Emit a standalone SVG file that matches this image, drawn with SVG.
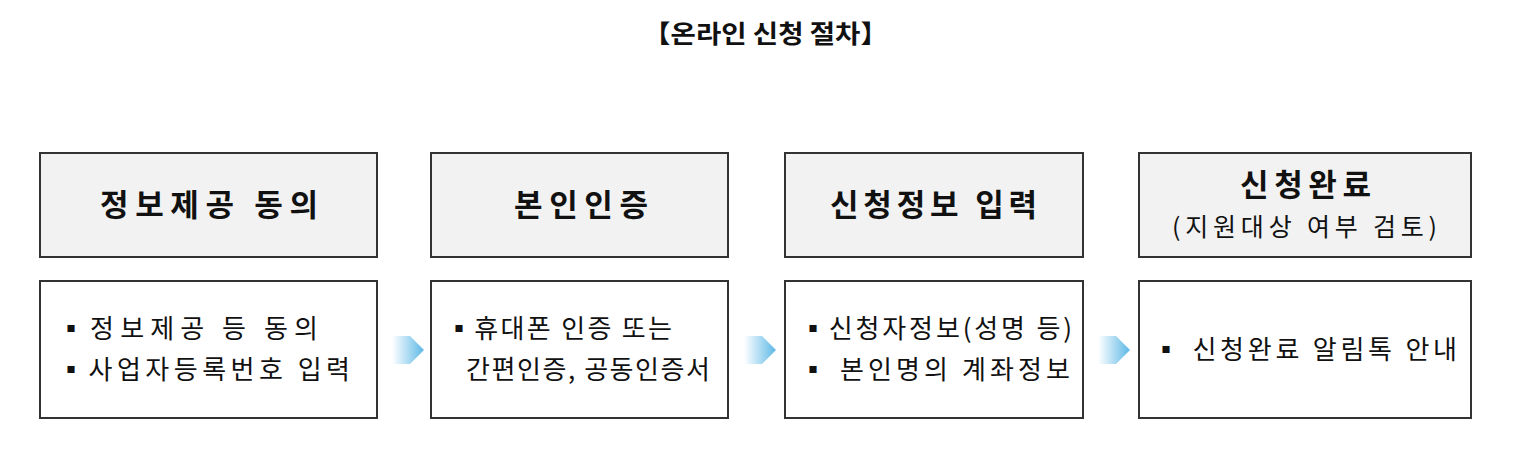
<svg xmlns="http://www.w3.org/2000/svg" width="1538" height="458" viewBox="0 0 1538 458">
<style>
text{font-family:"Noto Sans CJK KR","Noto Sans",sans-serif;fill:#111}
.hd{fill:#f2f2f2;stroke:#333;stroke-width:2}
.bd{fill:#fff;stroke:#333;stroke-width:2}
.h{font-size:31px;font-weight:bold}
.s{font-size:25px}
.b{font-size:26px}
.t{font-size:25px;font-weight:bold}
</style>
<defs>
<linearGradient id="g" x1="0" x2="1" y1="0" y2="0"><stop offset="0" stop-color="#5cb8e6" stop-opacity="0"/><stop offset="1" stop-color="#5cb8e6"/></linearGradient>
<polygon id="arr" points="0,0 18,0 32,14 18,28 0,28" fill="url(#g)"/>
</defs>
<text class="t" x="643" y="43" textLength="245" lengthAdjust="spacingAndGlyphs">【온라인 신청 절차】</text>
<g id="n1"><rect class="hd" x="40" y="153" width="337" height="104"/><text class="h" x="100" y="216" textLength="218">정보제공  동의</text></g>
<g id="n1b"><rect class="bd" x="40" y="281" width="337" height="137"/><text class="b" x="58" y="338" textLength="260">▪정보제공  등  동의</text><text class="b" x="58" y="379" textLength="292">▪사업자등록번호  입력</text></g>
<g id="n2"><rect class="hd" x="431" y="153" width="297" height="104"/><text class="h" x="514" y="216" textLength="134">본인인증</text></g>
<g id="n2b"><rect class="bd" x="431" y="281" width="297" height="137"/><text class="b" x="446" y="338" textLength="226">▪휴대폰 인증 또는</text><text class="b" x="466" y="379" textLength="244">간편인증, 공동인증서</text></g>
<g id="n3"><rect class="hd" x="785" y="153" width="298" height="104"/><text class="h" x="830" y="216" textLength="207">신청정보 입력</text></g>
<g id="n3b"><rect class="bd" x="785" y="281" width="298" height="137"/><text class="b" x="800" y="338" textLength="272">▪신청자정보(성명 등)</text><text class="b" x="800" y="379" textLength="270">▪ 본인명의 계좌정보</text></g>
<g id="n4"><rect class="hd" x="1139" y="153" width="332" height="104"/><text class="h" x="1240" y="196" textLength="131">신청완료</text><text class="s" x="1172" y="236" textLength="265">(지원대상  여부  검토)</text></g>
<g id="n4b"><rect class="bd" x="1139" y="281" width="332" height="137"/><text class="b" x="1153" y="359" textLength="304">▪ 신청완료 알림톡 안내</text></g>
<g id="connectors">
<use href="#arr" x="392" y="336"/>
<use href="#arr" x="744" y="336"/>
<use href="#arr" x="1098" y="336"/>
</g>
</svg>
